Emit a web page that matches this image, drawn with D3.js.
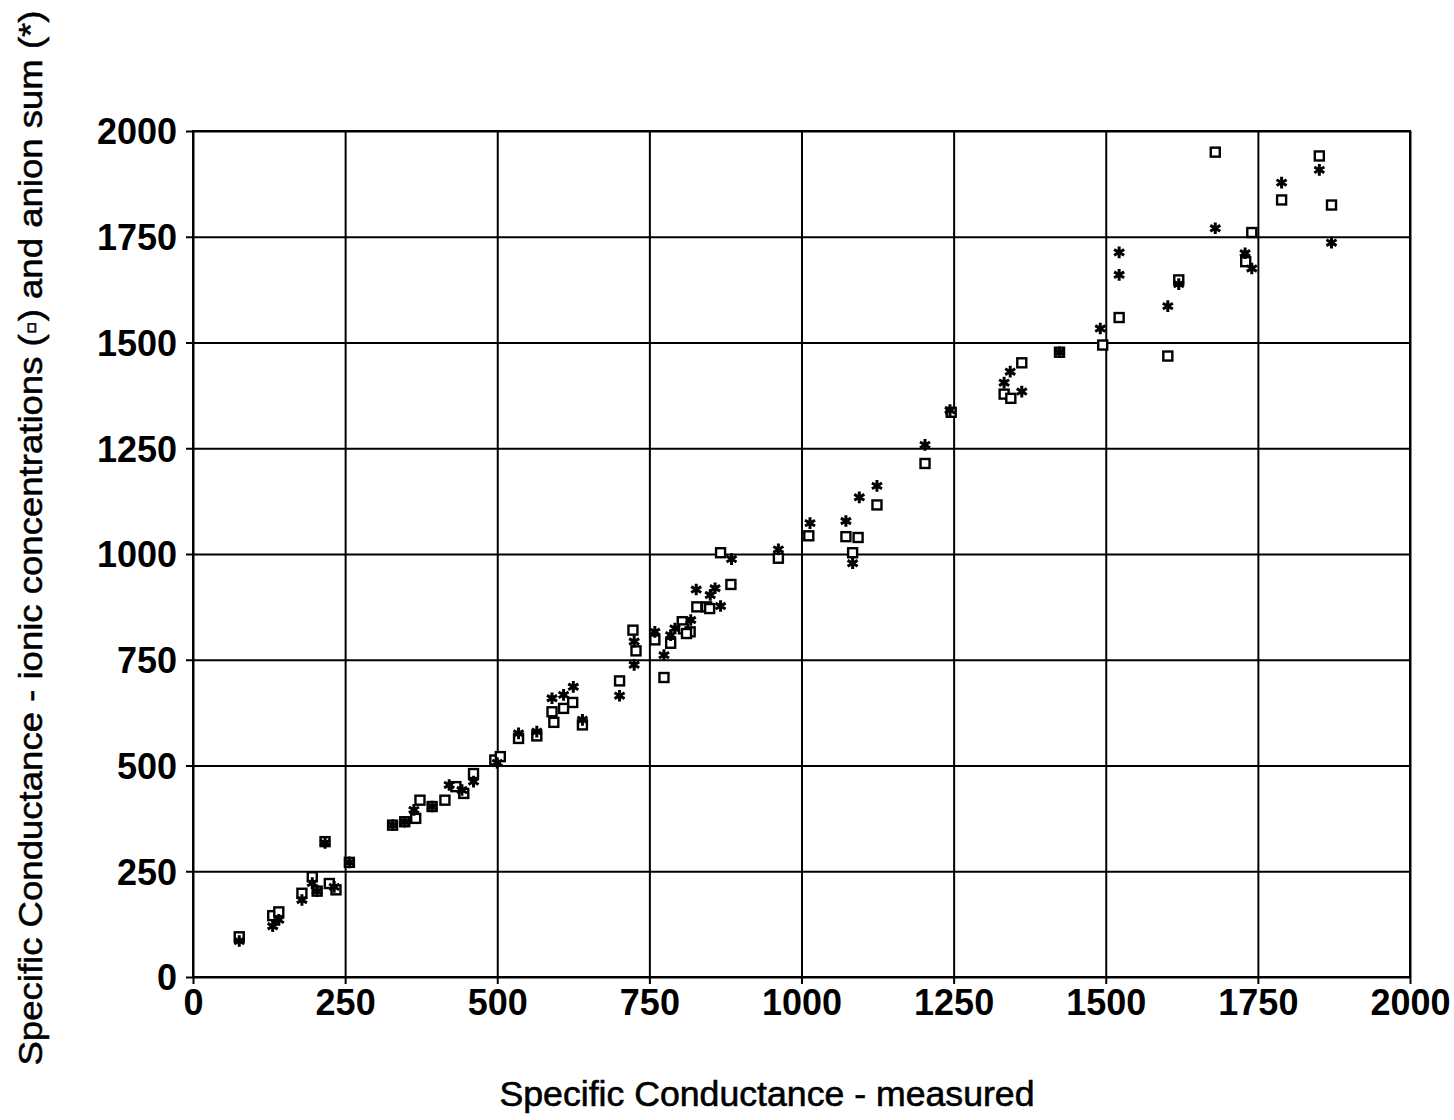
<!DOCTYPE html>
<html>
<head>
<meta charset="utf-8">
<script src="https://cdn.jsdelivr.net/npm/d3@7"></script>
<style>
  body { margin: 0; background: #fff; }
  text { font-family: "Liberation Sans", Arial, sans-serif; fill: #000; }
</style>
</head>
<body>
<div id="chart"></div>
<script>
// ionic concentrations (squares): [measured, calculated]
const ionicPoints = [
  [76, 95], [131, 145], [141, 154], [179, 198], [196, 237], [204, 203], [217, 320],
  [224, 221], [235, 206], [257, 271], [328, 359], [348, 367], [366, 375], [373, 418],
  [393, 403], [414, 418], [432, 450], [445, 434], [461, 481], [496, 513], [505, 521],
  [535, 564], [565, 570], [593, 602], [590, 627], [609, 635], [624, 649], [640, 596],
  [701, 700], [723, 820], [728, 771], [759, 797], [774, 708], [785, 789], [804, 840],
  [806, 823], [817, 816], [811, 812], [828, 875], [844, 875], [849, 871], [884, 928],
  [867, 1003], [962, 990], [1012, 1043], [1073, 1041], [1093, 1039], [1084, 1003],
  [1124, 1116], [1203, 1214], [1246, 1335], [1333, 1378], [1344, 1368], [1362, 1452],
  [1424, 1477], [1495, 1494], [1522, 1559], [1602, 1468], [1620, 1648], [1680, 1950],
  [1730, 1691], [1740, 1760], [1789, 1837], [1851, 1941], [1871, 1825]
];

// anion sum (asterisks): [measured, calculated]
const anionPoints = [
  [76, 85], [131, 120], [141, 135], [179, 182], [196, 222], [204, 203], [217, 317],
  [232, 213], [257, 271], [328, 359], [348, 367], [363, 395], [393, 403], [421, 454],
  [442, 442], [461, 462], [500, 506], [535, 576], [565, 580], [590, 659], [609, 667],
  [625, 686], [640, 608], [701, 665], [725, 793], [725, 738], [759, 816], [774, 761],
  [785, 808], [792, 824], [818, 844], [827, 916], [850, 903], [858, 919], [867, 877],
  [885, 988], [962, 1011], [1014, 1073], [1073, 1078], [1084, 978], [1095, 1134],
  [1124, 1161], [1203, 1258], [1244, 1340], [1333, 1405], [1343, 1431], [1362, 1384],
  [1424, 1477], [1491, 1533], [1522, 1713], [1522, 1660], [1602, 1586], [1620, 1638],
  [1680, 1770], [1729, 1711], [1740, 1675], [1789, 1878], [1851, 1908], [1871, 1736]
];

const tickValues = [0, 250, 500, 750, 1000, 1250, 1500, 1750, 2000];

const xTitle = "Specific Conductance - measured";
const yTitle = "Specific Conductance - ionic concentrations (\u25AB) and anion sum (*)";

const W = 1454, H = 1120;
const margin = { top: 131, right: 44, bottom: 143, left: 193 };
const width = W - margin.left - margin.right;
const height = H - margin.top - margin.bottom;

const svg = d3.select("#chart")
  .append("svg")
  .attr("width", W)
  .attr("height", H)
  .append("g")
  .attr("transform", `translate(${margin.left},${margin.top})`);

const xScale = d3.scaleLinear().domain([0, 2000]).range([0, width]);
const yScale = d3.scaleLinear().domain([0, 2000]).range([height, 0]);

// gridlines + ticks
const xAxis = svg.append("g")
  .attr("transform", `translate(0,${height})`)
  .call(d3.axisBottom(xScale)
    .tickValues(tickValues)
    .tickFormat(d3.format("d"))
    .tickSizeInner(-height - 7)
    .tickSizeOuter(0)
    .tickPadding(12));
xAxis.selectAll(".tick line").attr("transform", "translate(0,7)");
xAxis.select(".domain").remove();

const yAxis = svg.append("g")
  .call(d3.axisLeft(yScale)
    .tickValues(tickValues)
    .tickFormat(d3.format("d"))
    .tickSizeInner(-width - 7)
    .tickSizeOuter(0)
    .tickPadding(12));
yAxis.selectAll(".tick line").attr("transform", "translate(-7,0)");
yAxis.select(".domain").remove();

svg.selectAll(".tick line")
  .attr("stroke", "#000")
  .attr("stroke-width", 2);

svg.selectAll(".tick text")
  .style("font-size", "36px")
  .style("font-weight", "bold")
  .style("font-family", "'Liberation Sans', Arial, sans-serif");

xAxis.selectAll(".tick text").attr("dy", "0.72em");
yAxis.selectAll(".tick text").attr("dy", "0.36em").attr("x", -16);

// right and top border
svg.append("rect")
  .attr("width", width)
  .attr("height", height)
  .attr("fill", "none")
  .attr("stroke", "#000")
  .attr("stroke-width", 2);

// squares
svg.selectAll(".sq")
  .data(ionicPoints)
  .enter().append("rect")
  .attr("class", "sq")
  .attr("x", d => xScale(d[0]) - 4.5)
  .attr("y", d => yScale(d[1]) - 4.5)
  .attr("width", 9)
  .attr("height", 9)
  .attr("fill", "#fff")
  .attr("stroke", "#000")
  .attr("stroke-width", 2.4);

// asterisks
const star = d3.symbol().type(d3.symbolAsterisk).size(95);
svg.selectAll(".ast")
  .data(anionPoints)
  .enter().append("path")
  .attr("class", "ast")
  .attr("transform", d => `translate(${xScale(d[0])},${yScale(d[1])})`)
  .attr("d", star)
  .attr("fill", "none")
  .attr("stroke", "#000")
  .attr("stroke-width", 3);

// axis titles
svg.append("text")
  .attr("x", 767 - margin.left)
  .attr("y", height + 129)
  .attr("text-anchor", "middle")
  .attr("textLength", 535)
  .attr("lengthAdjust", "spacingAndGlyphs")
  .style("font-size", "35px")
  .style("stroke", "#000")
  .style("stroke-width", 0.6)
  .text(xTitle);

svg.append("text")
  .attr("transform", "rotate(-90)")
  .attr("x", -(538 - margin.top))
  .attr("y", -margin.left + 42)
  .attr("text-anchor", "middle")
  .attr("textLength", 1055)
  .attr("lengthAdjust", "spacingAndGlyphs")
  .style("font-size", "33px")
  .style("stroke", "#000")
  .style("stroke-width", 0.5)
  .style("font-family", "'Liberation Sans Narrow', 'Liberation Sans', Arial, sans-serif")
  .text(yTitle);
</script>
</body>
</html>
